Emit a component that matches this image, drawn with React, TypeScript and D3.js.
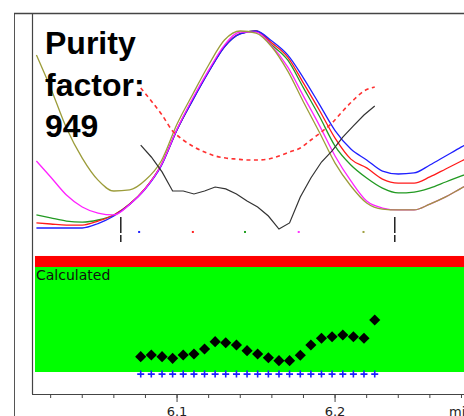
import React from "react";
import * as d3 from "d3";

const W = 464;
const H = 416;

// sample times (min) of the wavelength traces
const traceTimes = [
  6.011, 6.02, 6.03, 6.04, 6.05, 6.06, 6.07, 6.08, 6.09, 6.1, 6.11, 6.12, 6.13, 6.14, 6.15,
  6.16, 6.17, 6.18, 6.19, 6.2, 6.21, 6.22, 6.23, 6.24, 6.25, 6.26, 6.27, 6.28, 6.285,
];

// normalized traces (peak = 100)
const traceBlue = [
  6.2, 6.2, 6.2, 6.2, 8.3, 11.9, 17.4, 24.8, 35.7, 52.9, 67.1, 80.5, 92.4, 98.6, 100, 95.2,
  88.6, 77.6, 65.2, 52.6, 43.8, 38.6, 33.3, 31.9, 32.4, 36.2, 40.5, 44.8, 47.1,
];
const traceRed = [
  8.6, 8.1, 7.6, 7.6, 9.5, 12.4, 17.6, 25.2, 36.2, 53.1, 67.4, 80.7, 92.6, 98.8, 100, 94.3,
  87.6, 75.2, 62.4, 49.0, 39.0, 34.8, 29.5, 27.6, 27.6, 30.5, 34.3, 38.1, 40.0,
];
const traceGreen = [
  12.4, 11.0, 9.5, 9.0, 10.0, 12.4, 17.6, 25.2, 36.2, 53.1, 67.4, 80.7, 92.6, 98.8, 100, 93.3,
  86.2, 72.9, 59.5, 45.2, 36.2, 30.0, 25.2, 22.9, 23.3, 25.2, 28.1, 31.0, 32.4,
];
const traceMagenta = [
  38.1, 30.5, 21.9, 16.2, 13.3, 12.4, 17.4, 25.0, 36.2, 53.3, 68.1, 81.4, 93.3, 99.5, 99.5,
  92.9, 82.9, 69.0, 55.2, 40.5, 28.6, 19.0, 15.7, 14.8, 14.8, 17.6, 21.0, 25.2, 27.1,
];
const traceOlive = [
  88.6, 72.9, 53.8, 39.5, 29.0, 23.8, 24.3, 29.0, 38.1, 55.7, 70.0, 83.8, 95.7, 100, 99.0,
  92.4, 81.0, 66.2, 51.9, 37.1, 26.2, 18.1, 15.2, 14.8, 14.8, 17.6, 21.0, 25.2, 27.1,
];

// spectra taken across the peak
const spectrumTimes = [
  6.077, 6.0837, 6.0905, 6.0972, 6.1039, 6.1107, 6.1174, 6.1241, 6.1308, 6.1376, 6.1443, 6.151,
  6.1578, 6.1645, 6.1712, 6.178, 6.1847, 6.1914, 6.1981, 6.2049, 6.2116, 6.2183, 6.2251,
];
const similarity = [
  45.7, 40.0, 32.9, 23.8, 23.8, 22.4, 23.8, 25.7, 24.8, 22.4, 19.0, 16.2, 11.9, 5.7, 8.6, 21.0,
  30.0, 37.6, 42.9, 49.5, 54.8, 60.0, 64.3,
];
const threshold = [
  72.9, 66.7, 60.0, 52.4, 48.1, 44.8, 42.4, 40.5, 39.5, 39.0, 38.6, 38.6, 39.0, 40.5, 42.4, 44.3,
  48.1, 51.9, 56.2, 61.9, 67.1, 71.4, 73.3,
];
const purityRatio = [
  14.6, 16.2, 14.6, 13.0, 16.2, 17.1, 21.9, 28.9, 27.9, 25.7, 20.3, 17.1, 13.6, 10.8, 10.8, 15.9,
  25.7, 32.1, 33.6, 35.2, 33.6, 32.1, 49.5,
];

// wavelength spectrum markers and peak limits
const markerTimes = [6.076, 6.11, 6.143, 6.177, 6.218];
const markerColors = ["#2020ff", "#ff2020", "#22a022", "#ff30ff", "#a0a040"];
const peakLimits = [6.0644, 6.2378];

const labelTicks = [6.1, 6.2];
const labelTexts = ["6.1", "6.2"];
const purityLines = ["Purity", "factor:", "949"];

export default function App() {
  const x = d3.scaleLinear().domain([6.0082, 6.2816]).range([32, W]);
  const yTop = d3.scaleLinear().domain([0, 100]).range([241, 31]);
  const yLow = d3.scaleLinear().domain([0, 100]).range([372, 267]);

  const traceLine = (vals: number[]) =>
    d3
      .line<number>()
      .x((_, i) => x(traceTimes[i]))
      .y((v) => yTop(v))
      .curve(d3.curveMonotoneX)(vals) || "";

  const specLine = (vals: number[], curve: d3.CurveFactory) =>
    d3
      .line<number>()
      .x((_, i) => x(spectrumTimes[i]))
      .y((v) => yTop(v))
      .curve(curve)(vals) || "";

  const traces = [
    { vals: traceGreen, color: "#229a22" },
    { vals: traceRed, color: "#ff1a1a" },
    { vals: traceBlue, color: "#1f1fff" },
    { vals: traceMagenta, color: "#ff22ff" },
    { vals: traceOlive, color: "#9c9c3a" },
  ];

  const diamond = d3.symbol(d3.symbolSquare, 62)() || "";
  const minorTicks = x.ticks(12);
  const axisY = 394;

  return (
    <svg
      width={W}
      height={H}
      style={{ position: "absolute", left: 0, top: 0, background: "#fff" }}
      fontFamily="'DejaVu Sans', sans-serif"
    >
      <defs>
        <clipPath id="upper">
          <rect x={35} y={14} width={W - 35} height={236} />
        </clipPath>
      </defs>

      {/* frame */}
      <line x1={14.5} y1={13} x2={14.5} y2={H} stroke="#555" strokeWidth={1} />
      <line x1={14} y1={13.5} x2={W} y2={13.5} stroke="#444" strokeWidth={1.5} />
      <line x1={32.5} y1={13} x2={32.5} y2={axisY} stroke="#444" strokeWidth={1.2} />

      {/* lower panel */}
      <rect x={35} y={yLow(110.5)} width={W - 35} height={yLow(100) - yLow(110.5)} fill="#ff0000" />
      <rect x={35} y={yLow(100)} width={W - 35} height={yLow(0) - yLow(100)} fill="#00ff00" />
      <text x={36} y={280} fontSize={14} fill="#111">
        Calculated
      </text>
      {purityRatio.map((v, i) => (
        <path
          key={"d" + i}
          d={diamond}
          transform={`translate(${x(spectrumTimes[i])},${yLow(v)}) rotate(45)`}
          fill="#000"
        />
      ))}
      {spectrumTimes.map((t, i) => (
        <path
          key={"p" + i}
          d="M-3.5,0H3.5M0,-3.5V3.5"
          transform={`translate(${x(t)},${yLow(-2)})`}
          stroke="#1f1fff"
          strokeWidth={1.6}
          fill="none"
        />
      ))}

      {/* upper panel */}
      <g clipPath="url(#upper)">
        {traces.map((tr, i) => (
          <path key={"t" + i} d={traceLine(tr.vals)} fill="none" stroke={tr.color} strokeWidth={1.3} />
        ))}
        <path
          d={specLine(threshold, d3.curveMonotoneX)}
          fill="none"
          stroke="#ff3030"
          strokeWidth={1.6}
          strokeDasharray="4,3.5"
        />
        <path d={specLine(similarity, d3.curveLinear)} fill="none" stroke="#333" strokeWidth={1.2} />
        {markerTimes.map((t, i) => (
          <rect key={"m" + i} x={x(t) - 1} y={yTop(4.3) - 1} width={2} height={2} fill={markerColors[i]} />
        ))}
        {peakLimits.map((t, i) => (
          <line
            key={"l" + i}
            x1={x(t)}
            x2={x(t)}
            y1={yTop(11.4)}
            y2={yTop(-0.5)}
            stroke="#111"
            strokeWidth={1.4}
            strokeDasharray="16,2"
          />
        ))}
      </g>

      {purityLines.map((s, i) => (
        <text
          key={"pf" + i}
          x={45}
          y={54 + i * 41.5}
          fontFamily="'Liberation Sans', Arial, sans-serif"
          fontWeight="bold"
          fontSize={32}
          fill="#000"
        >
          {s}
        </text>
      ))}

      {/* x axis */}
      <line x1={32} y1={axisY + 0.5} x2={W} y2={axisY + 0.5} stroke="#444" strokeWidth={1.2} />
      {minorTicks.map((t, i) => (
        <line key={"k" + i} x1={x(t)} x2={x(t)} y1={axisY} y2={axisY + 4} stroke="#444" strokeWidth={1} />
      ))}
      {labelTicks.map((t, i) => (
        <g key={"L" + i}>
          <line x1={x(t)} x2={x(t)} y1={axisY} y2={axisY + 8} stroke="#444" strokeWidth={1} />
          <text x={x(t)} y={416} fontSize={13} textAnchor="middle" fill="#222">
            {labelTexts[i]}
          </text>
        </g>
      ))}
      <text x={449} y={416} fontSize={13} fill="#222">
        min
      </text>
    </svg>
  );
}
